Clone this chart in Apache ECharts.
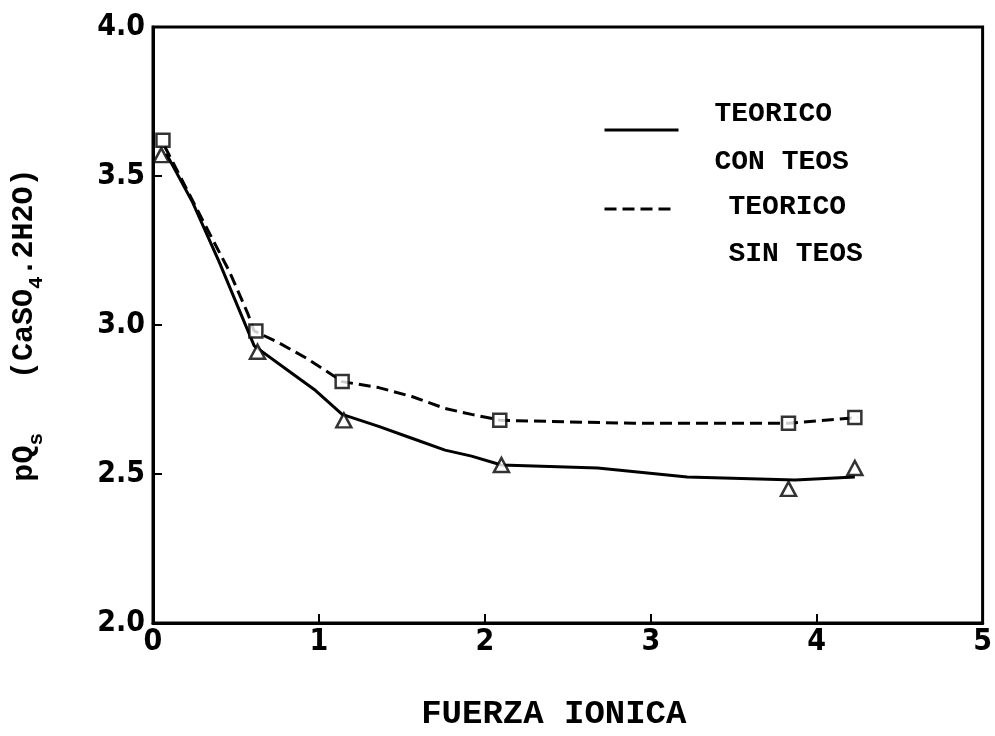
<!DOCTYPE html>
<html>
<head>
<meta charset="utf-8">
<title>pQs vs Fuerza Ionica</title>
<script src="https://cdn.jsdelivr.net/npm/echarts@6/dist/echarts.min.js"></script>
<style>
  html, body { margin: 0; padding: 0; background: #fff; }
  #chart { width: 995px; height: 736px; }
</style>
</head>
<body>
<div id="chart"></div>
<script>
// Theoretical curve, with TEOS (solid line): [ionic strength, pQs]
const teoricoConTeos = [
  [0.08, 3.575], [0.24, 3.41], [0.40, 3.21], [0.52, 3.05], [0.61, 2.93],
  [0.82, 2.845], [0.98, 2.78], [1.14, 2.70], [1.36, 2.66], [1.56, 2.62],
  [1.76, 2.58], [1.92, 2.56], [2.10, 2.53], [2.68, 2.52], [3.22, 2.49],
  [3.87, 2.48], [4.23, 2.49]
];
// Theoretical curve, without TEOS (dashed line)
const teoricoSinTeos = [
  [0.07, 3.60], [0.31, 3.34], [0.46, 3.18], [0.57, 3.04], [0.61, 2.98],
  [0.76, 2.94], [0.92, 2.89], [1.06, 2.84], [1.14, 2.81], [1.36, 2.79],
  [1.56, 2.76], [1.76, 2.72], [1.92, 2.70], [2.10, 2.68], [2.90, 2.67],
  [3.83, 2.67], [4.25, 2.69]
];
// Measured points (triangles / squares)
const puntosTriangulo = [
  [0.05, 3.57], [0.63, 2.91], [1.15, 2.68], [2.10, 2.53], [3.83, 2.45], [4.23, 2.52]
];
const puntosCuadrado = [
  [0.06, 3.62], [0.62, 2.98], [1.14, 2.81], [2.09, 2.68], [3.83, 2.67], [4.23, 2.69]
];
// Axis ranges
const xRange = { min: 0, max: 5, step: 1 };
const yRange = { min: 2, max: 4, step: 0.5 };
// Legend labels (two lines each)
const legendLabels = {
  'TEORICO CON TEOS': ['TEORICO', 'CON TEOS'],
  'TEORICO SIN TEOS': ['TEORICO', 'SIN TEOS']
};

const MONO = '"Liberation Mono", "Courier New", "DejaVu Sans Mono", monospace';
const NARROW = '"DejaVu Sans Condensed", "Liberation Sans Narrow", sans-serif';
const INK = '#000';

// legend label: a spacer line on top sets where the line sample sits
function legendText(name) {
  const [l1, l2] = legendLabels[name];
  return '{e| }\n{t|' + l1 + '}\n{t|' + l2 + '}';
}
function legendRich(spacer, lh) {
  return {
    e: { fontSize: 4, lineHeight: spacer },
    t: { fontFamily: MONO, fontWeight: 'bold', fontSize: 28, color: INK, lineHeight: lh }
  };
}

const chart = echarts.init(document.getElementById('chart'), null, { renderer: 'canvas' });

chart.setOption({
  backgroundColor: '#fff',
  animation: false,
  grid: {
    left: 153, right: 6, top: 27, bottom: 96,
    show: true, borderColor: INK, borderWidth: 3, backgroundColor: 'transparent'
  },
  legend: [
    {
      data: ['TEORICO CON TEOS'],
      left: 603, top: 80, padding: 0, orient: 'vertical',
      itemWidth: 74, itemHeight: 14,
      itemStyle: { opacity: 0 },
      lineStyle: { width: 3, color: INK },
      formatter: legendText,
      textStyle: { padding: [0, 0, 0, 31], rich: legendRich(16, 48) }
    },
    {
      data: ['TEORICO SIN TEOS'],
      left: 603, top: 160, padding: 0, orient: 'vertical',
      itemWidth: 67, itemHeight: 14,
      itemStyle: { opacity: 0 },
      lineStyle: { width: 3, color: INK },
      formatter: legendText,
      textStyle: { padding: [0, 0, 0, 52], rich: legendRich(43, 47) }
    }
  ],
  xAxis: {
    type: 'value', min: xRange.min, max: xRange.max, interval: xRange.step,
    name: 'FUERZA IONICA', nameLocation: 'middle', nameGap: 74,
    nameTextStyle: {
      fontFamily: MONO, fontWeight: 'bold', fontSize: 34, color: INK,
      padding: [0, 28, 0, 0]
    },
    axisLine: { lineStyle: { color: INK, width: 3 } },
    axisTick: { inside: true, length: 9, lineStyle: { color: INK, width: 2 } },
    axisLabel: {
      fontFamily: NARROW, fontWeight: 'bold', fontSize: 30, color: INK, margin: 4
    },
    splitLine: { show: false }
  },
  yAxis: {
    type: 'value', min: yRange.min, max: yRange.max, interval: yRange.step,
    name: '{a|pQ}{s|s}{a|   (CaSO}{s|4}{a|.2H2O)}',
    nameLocation: 'middle', nameRotate: 90, nameGap: 114,
    nameTextStyle: {
      color: INK,
      rich: {
        a: { fontFamily: MONO, fontWeight: 'bold', fontSize: 30, color: INK },
        s: { fontFamily: MONO, fontWeight: 'bold', fontSize: 21, color: INK, verticalAlign: 'bottom', padding: [0, 0, -8, 0] }
      }
    },
    axisLine: { lineStyle: { color: INK, width: 3 } },
    axisTick: { inside: true, length: 9, lineStyle: { color: INK, width: 2 } },
    axisLabel: {
      fontFamily: NARROW, fontWeight: 'bold', fontSize: 30, color: INK, margin: 8,
      formatter: v => v.toFixed(1)
    },
    splitLine: { show: false }
  },
  series: [
    {
      name: 'TEORICO CON TEOS', type: 'line', data: teoricoConTeos,
      symbol: 'none', smooth: false, z: 2,
      lineStyle: { color: INK, width: 3, type: 'solid' },
      itemStyle: { color: INK }
    },
    {
      name: 'TEORICO SIN TEOS', type: 'line', data: teoricoSinTeos,
      symbol: 'none', smooth: false, z: 2,
      lineStyle: { color: INK, width: 3, type: [12, 6] },
      itemStyle: { color: INK }
    },
    {
      name: 'triangulos', type: 'scatter', data: puntosTriangulo,
      symbol: 'triangle', symbolSize: [15, 14], z: 3,
      itemStyle: { color: '#fff', borderColor: INK, borderWidth: 2.5 }
    },
    {
      name: 'cuadrados', type: 'scatter', data: puntosCuadrado,
      symbol: 'rect', symbolSize: 13, z: 3,
      itemStyle: { color: '#fff', borderColor: INK, borderWidth: 2.5 }
    }
  ]
});
</script>
</body>
</html>
